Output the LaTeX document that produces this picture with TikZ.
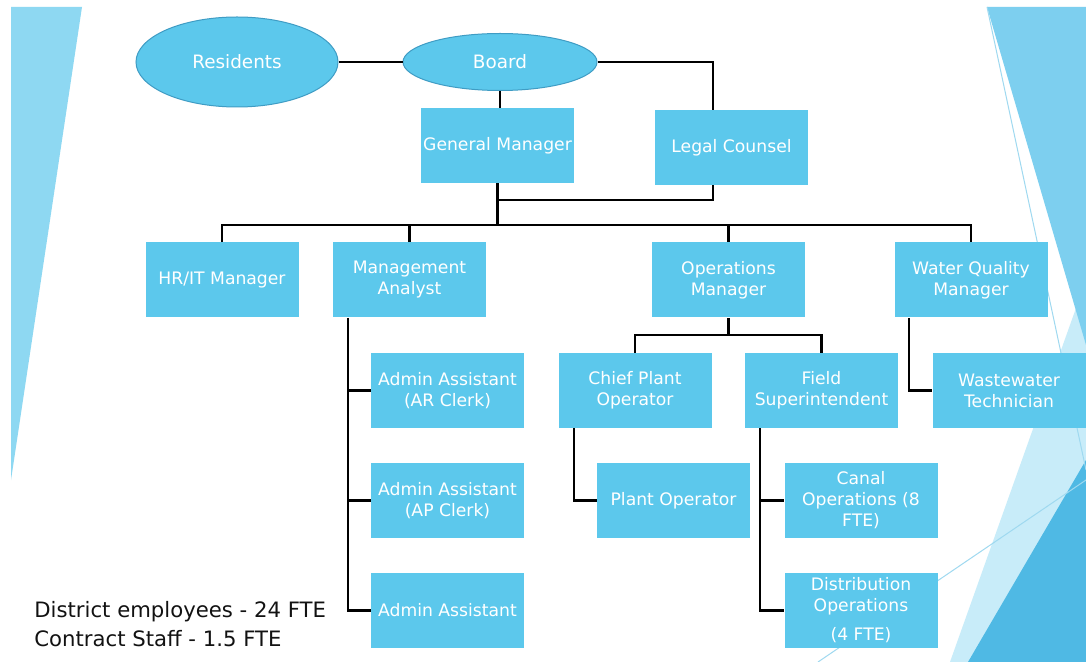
\documentclass[tikz,border=0pt]{standalone}
\usepackage{fontspec}
\setmainfont{DejaVu Sans}
\usetikzlibrary{shapes.geometric}
\definecolor{boxblue}{HTML}{5CC8EC}
\definecolor{ovalline}{HTML}{3F9CC4}
\definecolor{leftblue}{HTML}{8ED8F2}
\definecolor{midblue}{HTML}{7DCFEF}
\definecolor{paleblue}{HTML}{C8ECF9}
\definecolor{deepblue}{HTML}{4FB9E4}
\definecolor{thinblue}{HTML}{9FD9F0}
\tikzset{
  orgbox/.style={rectangle, fill=boxblue, text=white, minimum width=76.5pt, minimum height=37.5pt,
    inner sep=0pt, align=center, font=\fontsize{8.6}{10.5}\selectfont},
  oval/.style={ellipse, fill=boxblue, draw=ovalline, line width=0.5pt, text=white, inner sep=0pt,
    font=\fontsize{9.2}{11}\selectfont},
  link/.style={draw=black, line width=1.1pt},
  deco/.style={draw=thinblue, line width=0.5pt}
}
\begin{document}
\begin{tikzpicture}[x=0.5pt,y=-0.5pt]
\useasboundingbox (0,0) rectangle (1086,662);
\fill[white] (0,0) rectangle (1086,662);
% background decoration
\fill[leftblue] (11,7) -- (82,7) -- (11,480) -- cycle;
\fill[paleblue] (1086,280) -- (1086,662) -- (950,662) -- cycle;
\fill[midblue] (987,7) -- (1086,7) -- (1086,345) -- cycle;
\fill[deepblue] (1086,460) -- (1086,662) -- (968,662) -- cycle;
\draw[deco] (987,7) -- (1086,470);
\draw[deco] (818,662) -- (1086,480);

% nodes
\node[oval, minimum width=101pt, minimum height=45pt] (res) at (237,62) {Residents};
\node[oval, minimum width=97pt, minimum height=28.5pt] (board) at (500,62) {Board};
\node[orgbox] (gm) at (497.5,145.5) {General Manager};
\node[orgbox] (legal) at (731.5,147.5) {Legal Counsel};
\node[orgbox] (hr) at (222,280) {HR/IT Manager};
\node[orgbox] (ma) at (409.5,280) {Management\\Analyst};
\node[orgbox] (om) at (728.5,280) {Operations\\Manager};
\node[orgbox] (wq) at (971,280) {Water Quality\\Manager};
\node[orgbox] (ar) at (447.5,390.5) {Admin Assistant\\(AR Clerk)};
\node[orgbox] (ap) at (447.5,500.5) {Admin Assistant\\(AP Clerk)};
\node[orgbox] (aa) at (447.5,610.5) {Admin Assistant};
\node[orgbox] (cpo) at (635,390.5) {Chief Plant\\Operator};
\node[orgbox] (fs) at (821.5,390.5) {Field\\Superintendent};
\node[orgbox] (wt) at (1009,390.5) {Wastewater\\Technician};
\node[orgbox] (po) at (673.5,500.5) {Plant Operator};
\node[orgbox] (canal) at (861,500.5) {Canal\\Operations (8\\FTE)};
\node[orgbox] (dist) at (861,610.5) {Distribution\\Operations\\[4pt](4 FTE)};
\node[anchor=west, align=left, inner sep=0pt, text=black!93,
  font=\fontsize{10.6}{14.5}\selectfont] (note) at (34,624) {District employees - 24 FTE\\Contract Staff - 1.5 FTE};

% connectors
\coordinate (lx) at (713,0);
\coordinate (gl) at (498,200);
\coordinate (bus) at (0,225);
\coordinate (max) at (348,0);
\coordinate (ombus) at (0,335);
\coordinate (cx) at (574,0);
\coordinate (fx) at (760,0);
\coordinate (wx) at (909,0);

\draw[link] (res.east) -- (board.west);
\draw[link] (board.east) -| (lx |- legal.north);
\draw[link] (board.south) -- (board.south |- gm.north);
\draw[link] (gm.south) -- (gm.south |- bus);
\draw[link] (gl) -| (lx |- legal.south);
\draw[link] (hr.north) -- (hr.north |- bus) -- (wq.north |- bus) -- (wq.north);
\draw[link] (ma.north) -- (ma.north |- bus);
\draw[link] (om.north) -- (om.north |- bus);
\draw[link] (max |- ma.south) |- (aa.west);
\draw[link] (max |- ar.west) -- (ar.west);
\draw[link] (max |- ap.west) -- (ap.west);
\draw[link] (om.south) -- (om.south |- ombus);
\draw[link] (cpo.north) -- (cpo.north |- ombus) -- (fs.north |- ombus) -- (fs.north);
\draw[link] (cx |- cpo.south) |- (po.west);
\draw[link] (fx |- fs.south) |- (dist.west);
\draw[link] (fx |- canal.west) -- (canal.west);
\draw[link] (wx |- wq.south) |- (wt.west);
\end{tikzpicture}
\end{document}
